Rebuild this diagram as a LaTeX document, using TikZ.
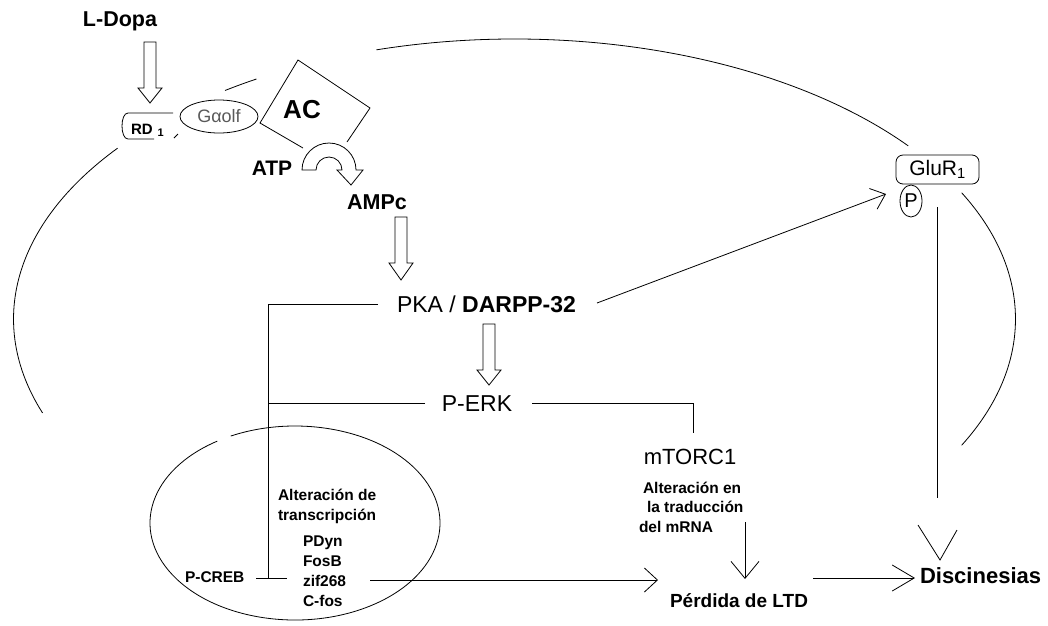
\documentclass[tikz,border=0pt]{standalone}
\usepackage{fontspec}
\setmainfont{Liberation Sans}
\usetikzlibrary{arrows.meta,calc,shapes.geometric}
\newcommand\hollowdown[4]{\draw[hollow] ({#1-6},#2) -- ({#1+6},#2) -- ({#1+6},#3) -- ({#1+12},#3) -- (#1,#4) -- ({#1-12},#3) -- ({#1-6},#3) -- cycle;}
\begin{document}
\begin{tikzpicture}[x=1pt,y=-1pt,line width=0.8pt,
  txt/.style={inner sep=0pt,outer sep=0pt},
  rg/.style={txt,font=\fontsize{#1}{#1}\selectfont},
  bd/.style={txt,font=\fontsize{#1}{#1}\selectfont\bfseries},
  hollow/.style={draw,fill=white,line join=miter,line width=0.8pt},
  barb/.style args={#1/#2}{-{Straight Barb[length=#1pt,width=#2pt]}}]
\fill[white] (0,0) rectangle (1048,625);
\useasboundingbox (0,0) rectangle (1048,625);
% cell membrane
\coordinate (cell) at (514.5,319);
\draw (cell) ++(142.4:501pt and 280pt) arc[start angle=142.4,end angle=199.6,x radius=501pt,y radius=280pt];
\draw (cell) ++(106:501pt and 280pt) arc[start angle=106,end angle=38.2,x radius=501pt,y radius=280pt];
\draw (cell) ++(26.8:501pt and 280pt) arc[start angle=26.8,end angle=-26.8,x radius=501pt,y radius=280pt];
\draw (cell) ++(125.3:501pt and 280pt) arc[start angle=125.3,end angle=121,x radius=501pt,y radius=280pt];
% nucleus
\coordinate (nuc) at (295,523);
\draw (nuc) ++(122.4:145pt and 97pt) arc[start angle=122.4,end angle=476.3,x radius=145pt,y radius=97pt];
% L-Dopa and receptor
\node[bd=21.5,anchor=base] (ldopa) at (120,26) {L-Dopa};
\hollowdown{150}{42}{88}{103}
\draw (173,113) -- (128,113) .. controls (120,113) and (120,139) .. (128,139) -- (154,139);
\draw (174,138) -- (178,134);
\node[bd=15,anchor=base west] (rd1) at (131,134) {RD\hspace{5pt}\raisebox{-2pt}{\fontsize{11}{11}\selectfont 1}};
\node[draw,ellipse,minimum width=78pt,minimum height=33pt,inner sep=0pt,text=black!65,font=\fontsize{18}{18}\selectfont] (galf) at (219,116.5) {Gαolf};
% adenylate cyclase
\coordinate (acT) at (298,60);
\coordinate (acR) at (370,108);
\coordinate (acL) at (260,123);
\coordinate (acBL) at (303,148);
\coordinate (acBR) at (347,142);
\draw (acBL) -- (acL) -- (acT) -- (acR) -- (acBR);
\node[bd=26,anchor=base] (ac) at (302,118) {AC};
\node[bd=21,anchor=base] (atp) at (272,175) {ATP};
\draw[hollow] (302,170) arc[start angle=180,end angle=0,radius=27pt] -- (363,170) -- (351,185) -- (337,170) -- (342,170) arc[start angle=0,end angle=180,radius=13pt] -- cycle;
\node[bd=21.5,anchor=base] (ampc) at (377,209) {AMPc};
\hollowdown{401}{217}{263}{280}
% PKA / DARPP-32
\node[rg=23,anchor=base west] (pka) at (397,312) {PKA / \textbf{DARPP-32}};
\hollowdown{489}{324}{370}{385}
\node[rg=23,anchor=base] (perk) at (477,411) {P-ERK};
\coordinate (pkaL) at (378,304);
\coordinate (creb) at (268,578);
\draw (pkaL) -- (pkaL -| creb) -- (creb);
\draw ([xshift=-12pt]creb) -- ([xshift=19pt]creb);
\coordinate (perkL) at (425,403);
\coordinate (perkR) at (532,403);
\coordinate (mtorT) at (693,433);
\draw (perkL) -- (perkL -| creb);
\draw (perkR) -- (perkR -| mtorT) -- (mtorT);
% nucleus texts
\node[bd=15.5,anchor=base west] (pcreb) at (185,582) {P-CREB};
\node[bd=15.5,anchor=base west] (alt1) at (278,500) {Alteración de};
\node[bd=15.5,anchor=base west] (alt2) at (278,520) {transcripción};
\node[bd=15.5,anchor=base west] (pdyn) at (303,546) {PDyn};
\node[bd=15.5,anchor=base west] (fosb) at (303,566) {FosB};
\node[bd=15.5,anchor=base west] (zif) at (303,586) {zif268};
\node[bd=15.5,anchor=base west] (cfos) at (303,606) {C-fos};
% mTORC1
\node[rg=22,anchor=base] (mtor) at (690,464) {mTORC1};
\node[bd=15.5,anchor=base west] (tr1) at (643,493) {Alteración en};
\node[bd=15.5,anchor=base west] (tr2) at (647,512) {la traducción};
\node[bd=15.5,anchor=base west] (tr3) at (639,532) {del mRNA};
\node[bd=19,anchor=base] (perd) at (739,607) {Pérdida de LTD};
\node[bd=22,anchor=base west] (disc) at (920,583) {Discinesias};
\coordinate (trR) at (745,522);
\coordinate (perdT) at (745,579);
\draw[barb=17/28] (trR) -- (perdT);
\coordinate (zifR) at (370,580);
\coordinate (perdL) at (658,580);
\draw[barb=13/24] (zifR) -- (perdL);
\coordinate (perdR) at (813,578);
\coordinate (discL) at (915,578);
\draw[barb=22/26] (perdR) -- (discL);
% GluR1
\node[draw,rounded corners=7pt,minimum width=83pt,minimum height=29pt,inner sep=0pt,font=\fontsize{21}{21}\selectfont] (glur) at (937.5,169.5) {GluR\textsubscript{1}};
\node[draw,ellipse,minimum width=22pt,minimum height=32pt,inner sep=0pt,font=\fontsize{20}{20}\selectfont] (p) at (911,201) {P};
\coordinate (darR) at (597,303);
\coordinate (pL) at (886,194);
\draw[barb=13/22] (darR) -- (pL);
\coordinate (gl1) at (937,207);
\coordinate (gl2) at (937,498);
\draw (gl1) -- (gl2);
\coordinate (vL) at (918,525);
\coordinate (vT) at (940,560);
\coordinate (vR) at (957,530);
\draw (vL) -- (vT) -- (vR);
\end{tikzpicture}
\end{document}
